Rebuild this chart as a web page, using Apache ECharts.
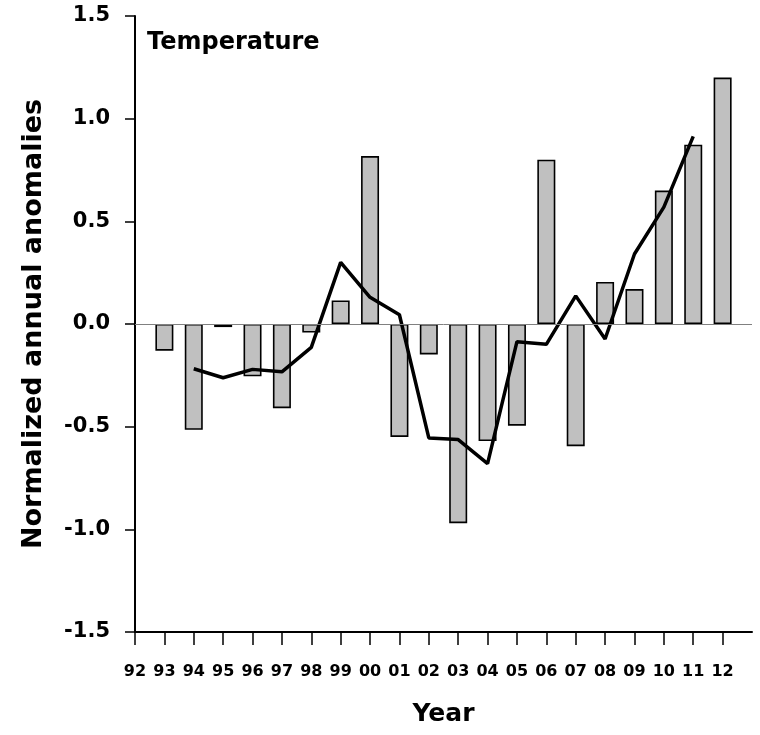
<!DOCTYPE html>
<html>
<head>
<meta charset="utf-8">
<script src="https://cdn.jsdelivr.net/npm/echarts@6/dist/echarts.min.js"></script>
<style>
html,body{margin:0;padding:0;background:#fff;}
#chart{width:760px;height:735px;}
</style>
</head>
<body>
<div id="chart"></div>
<script>
// Years on the x axis (the trailing '' is the unlabelled end of the axis)
var years = ['92','93','94','95','96','97','98','99','00','01','02','03','04','05','06','07','08','09','10','11','12',''];
// Normalized annual temperature anomalies (bars)
var anomalies = [null,-0.13,-0.515,-0.015,-0.255,-0.41,-0.042,0.115,0.818,-0.55,-0.148,-0.97,-0.57,-0.495,0.80,-0.595,0.205,0.17,0.65,0.873,1.2,null];
// Smoothed curve (line)
var smoothed = [null,null,-0.218,-0.262,-0.221,-0.233,-0.114,0.30,0.13,0.045,-0.555,-0.563,-0.68,-0.086,-0.099,0.137,-0.073,0.341,0.569,0.914,null,null];
var yTicks = [-1.5,-1.0,-0.5,0.0,0.5,1.0,1.5];

var FONT = 'DejaVu Sans';
var chart = echarts.init(document.getElementById('chart'), null, {renderer:'canvas'});
chart.setOption({
  animation:false,
  backgroundColor:'#fff',
  title:{
    text:'Temperature',
    left:142, top:26,
    textStyle:{fontFamily:FONT,fontWeight:'bold',fontSize:24,color:'#000'}
  },
  grid:{left:135,right:8,top:16,bottom:103,containLabel:false},
  xAxis:{
    type:'category',
    data:years,
    boundaryGap:false,
    name:'Year',
    nameLocation:'middle',
    nameGap:70,
    nameTextStyle:{fontFamily:FONT,fontWeight:'bold',fontSize:25,color:'#000'},
    axisLine:{onZero:false,lineStyle:{color:'#000',width:2}},
    axisTick:{show:true,length:13,interval:function(i,v){return v!=='';},lineStyle:{color:'#000',width:1.5}},
    axisLabel:{interval:0,margin:32,fontFamily:FONT,fontWeight:'bold',fontSize:16,color:'#000'},
    splitLine:{show:false}
  },
  yAxis:{
    type:'value',
    min:yTicks[0], max:yTicks[yTicks.length-1], interval:0.5,
    name:'Normalized annual anomalies',
    nameLocation:'middle',
    nameGap:88,
    nameRotate:90,
    nameTextStyle:{fontFamily:FONT,fontWeight:'bold',fontSize:27,color:'#000'},
    axisLine:{show:true,lineStyle:{color:'#000',width:2}},
    axisTick:{show:true,length:10,lineStyle:{color:'#000',width:1.5}},
    axisLabel:{margin:25,fontFamily:FONT,fontWeight:'bold',fontSize:21,color:'#000',
      formatter:function(v){return v.toFixed(1);}},
    splitLine:{show:false}
  },
  series:[
    {
      type:'bar',
      data:anomalies,
      barWidth:18,
      itemStyle:{color:'#c0c0c0',borderColor:'#000',borderWidth:1.6},
      markLine:{
        silent:true,symbol:'none',label:{show:false},
        lineStyle:{color:'#808080',width:1,type:'solid'},
        data:[{yAxis:0}]
      },
      z:2
    },
    {
      type:'line',
      data:smoothed,
      showSymbol:false,
      symbol:'none',
      lineStyle:{color:'#000',width:3.5},
      itemStyle:{color:'#000'},
      connectNulls:false,
      z:3
    }
  ]
});
</script>
</body>
</html>
